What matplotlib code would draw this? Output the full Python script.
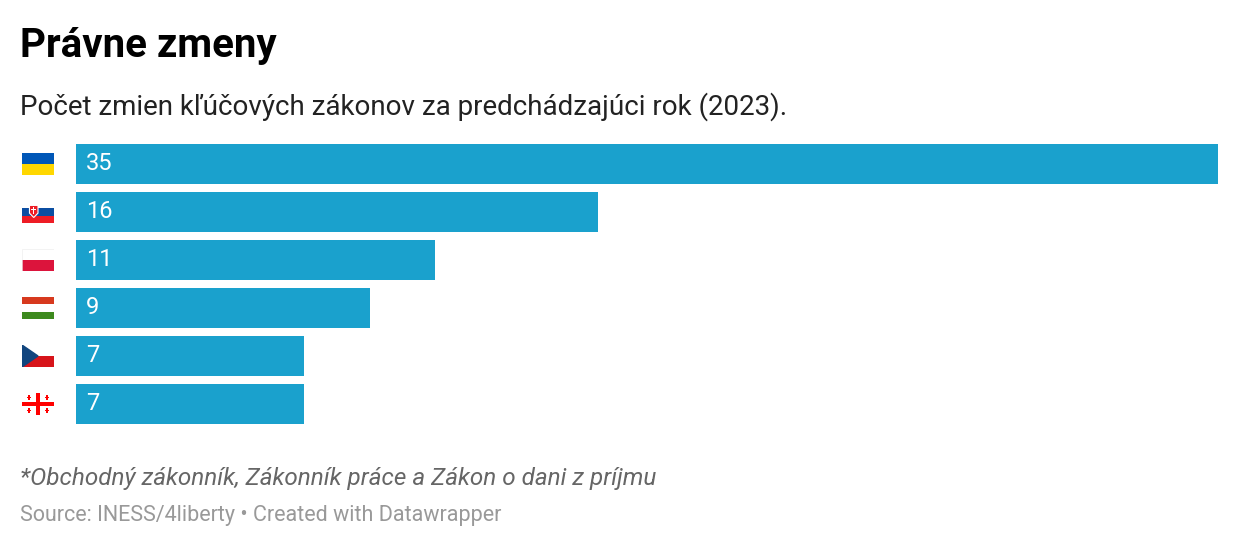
import matplotlib
matplotlib.use("Agg")
import matplotlib.pyplot as plt
from matplotlib.patches import Rectangle, Polygon

plt.rcParams['font.family'] = ['Roboto', 'DejaVu Sans']

countries = ["Ukraine", "Slovakia", "Poland", "Hungary", "Czechia", "Georgia"]
values = [35, 16, 11, 9, 7, 7]
labels = ["35", "16", "11", "9", "7", "7"]

W, H = 1240, 548
fig = plt.figure(figsize=(W/100, H/100), dpi=100)
fig.patch.set_facecolor("white")

def fx(px): return px / W
def fy(py): return 1 - py / H

ax = fig.add_axes([fx(76), fy(428), fx(1218) - fx(76), (428 - 140) / H])
y = list(range(len(values)))
ax.barh(y, values, height=40/48, color="#1aa1cd")
ax.set_xlim(0, 35)
ax.set_ylim(5.5, -0.5)
ax.axis("off")
for i, (v, l) in enumerate(zip(values, labels)):
    ax.text(0.3, i, l, color="white", fontsize=17, va="center", ha="left")

def flag(country, row):
    cy = 164 + 48 * row
    fa = fig.add_axes([fx(22), fy(cy + 11), 32 / W, 22 / H])
    fa.set_xlim(0, 3); fa.set_ylim(0, 2); fa.axis("off")
    R = lambda x, y, w, h, c: fa.add_patch(Rectangle((x, y), w, h, color=c, lw=0))
    if country == "Ukraine":
        R(0, 1, 3, 1, "#0057b7"); R(0, 0, 3, 1, "#ffd700")
    elif country == "Slovakia":
        R(0, 4/3, 3, 2/3, "white"); R(0, 2/3, 3, 2/3, "#0b4ea2"); R(0, 0, 3, 2/3, "#ee1c25")
        fa.add_patch(Polygon([[0.7, 1.6], [1.5, 1.6], [1.5, 0.9], [1.1, 0.5], [0.7, 0.9]], color="#ee1c25", ec="white", lw=0.8))
        R(1.05, 0.8, 0.1, 0.7, "white"); R(0.85, 1.2, 0.5, 0.08, "white")
    elif country == "Poland":
        R(0, 1, 3, 1, "white"); R(0, 0, 3, 1, "#dc143c")
        fa.add_patch(Rectangle((0, 0), 3, 2, fill=False, ec="#eeeeee", lw=0.5))
    elif country == "Hungary":
        R(0, 4/3, 3, 2/3, "#d7391e"); R(0, 2/3, 3, 2/3, "white"); R(0, 0, 3, 2/3, "#3d8a1e")
    elif country == "Czechia":
        R(0, 1, 3, 1, "white"); R(0, 0, 3, 1, "#d7141a")
        fa.add_patch(Polygon([[0, 0], [0, 2], [1.5, 1]], color="#11457e"))
    elif country == "Georgia":
        R(0, 0, 3, 2, "white")
        R(1.3, 0, 0.4, 2, "#ff0000"); R(0, 0.8, 3, 0.4, "#ff0000")
        for (cx, cyy) in [(0.65, 0.4), (2.35, 0.4), (0.65, 1.6), (2.35, 1.6)]:
            R(cx - 0.06, cyy - 0.22, 0.12, 0.44, "#ff0000"); R(cx - 0.22, cyy - 0.06, 0.44, 0.12, "#ff0000")

for i, c in enumerate(countries):
    flag(c, i)

fig.text(fx(20), fy(46), "Právne zmeny", fontsize=29, fontweight="bold", va="center", ha="left", color="#000000")
fig.text(fx(20), fy(107), "Počet zmien kľúčových zákonov za predchádzajúci rok (2023).", fontsize=20, va="center", ha="left", color="#222222")
fig.text(fx(20), fy(478), "*Obchodný zákonník, Zákonník práce a Zákon o dani z príjmu", fontsize=17.5, style="italic", va="center", ha="left", color="#666666")
fig.text(fx(20), fy(515), "Source: INESS/4liberty • Created with Datawrapper", fontsize=15.5, va="center", ha="left", color="#999999")

fig.savefig("out.png", dpi=100)
